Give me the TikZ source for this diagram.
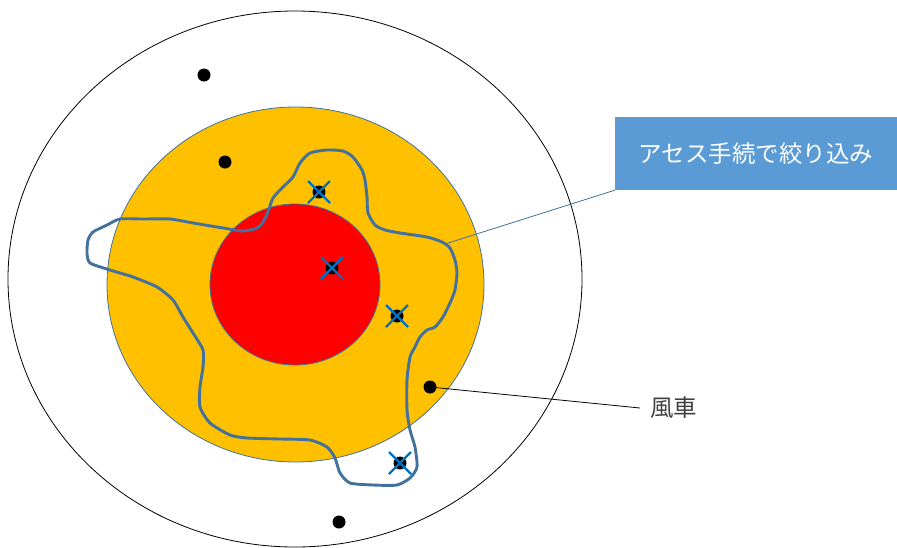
\documentclass[tikz,border=0pt]{standalone}
\usepackage{fontspec}
\newfontfamily\jp{Noto Sans CJK JP}
\definecolor{orng}{HTML}{FFC000}
\definecolor{edgeblue}{HTML}{41719C}
\definecolor{xblue}{HTML}{0070C0}
\definecolor{boxblue}{HTML}{5B9BD5}
\definecolor{labelgray}{HTML}{404040}
\tikzset{
  dotmark/.style={circle,fill=black,inner sep=0pt,minimum size=13pt},
  xmark/.style={xblue,line width=2.2pt},
  callout/.style={edgeblue,line width=0.8pt},
}
\begin{document}
\begin{tikzpicture}[x=1pt,y=-1pt]
\useasboundingbox (0,0) rectangle (897,547);
% regions
\draw[black,line width=0.8pt] (295,279) ellipse [x radius=287pt, y radius=268pt];
\draw[edgeblue,line width=0.8pt,fill=orng] (295.5,284.5) ellipse [x radius=188.5pt, y radius=177.5pt];
\draw[edgeblue,line width=0.8pt,fill=red] (295,284.5) ellipse [x radius=85pt, y radius=80.5pt];
% narrowed area
\draw[edgeblue,line width=2.9pt,line join=round] plot[smooth cycle,tension=0.4] coordinates {
(327,150) (343,151) (353,157) (362,170) (365,180) (367,197) (368,213) (375,225) (385,230) (400,233) (427,237) (442,242) (450,248) (455,260) (457,273) (455,290) (450,303) (443,317) (435,327) (427,330) (420,337) (415,347) (410,357) (407,380) (407,410) (410,430) (415,447) (417,467) (410,478) (397,485) (373,485) (350,483) (340,473) (335,458) (327,447) (310,440) (280,439) (247,438) (230,435) (210,423) (200,407) (200,387) (203,367) (203,350) (193,333) (183,317) (173,300) (157,287) (133,277) (110,270) (90,263) (87,253) (88,240) (93,232) (107,225) (120,219) (143,219) (170,219) (193,223) (223,228) (243,231) (257,228) (263,222) (268,212) (273,198) (283,187) (293,177) (300,163) (310,153)};
\coordinate (curvept) at (445,244);
% dots
\node[dotmark] (d1) at (204,75) {};
\node[dotmark] (d2) at (225,162) {};
\node[dotmark] (d3) at (319,192) {};
\node[dotmark] (d4) at (332,268) {};
\node[dotmark] (d5) at (397,316) {};
\node[dotmark] (d6) at (430,387) {};
\node[dotmark] (d7) at (400,463) {};
\node[dotmark] (d8) at (339,522) {};
% crosses
\foreach \n in {d3,d4,d5,d7}{
  \draw[xmark] ([shift={(-11,-11)}]\n.center) -- ([shift={(11,11)}]\n.center);
  \draw[xmark] ([shift={(-11,11)}]\n.center) -- ([shift={(11,-11)}]\n.center);
}
% callout box
\node[fill=boxblue,minimum width=282pt,minimum height=73pt,inner sep=0pt,text=white,font=\jp\fontsize{23.5}{28}\selectfont] (box) at (756,153.5) {アセス手続で絞り込み};
\draw[callout] (box.south west) -- (curvept);
% wind turbine label
\node[anchor=west,inner sep=0pt,text=labelgray,font=\jp\fontsize{23.5}{28}\selectfont] (lbl) at (650,408) {風車};
\draw[black,line width=0.8pt] (d6.center) -- ([xshift=-10pt]lbl.west);
\end{tikzpicture}
\end{document}
